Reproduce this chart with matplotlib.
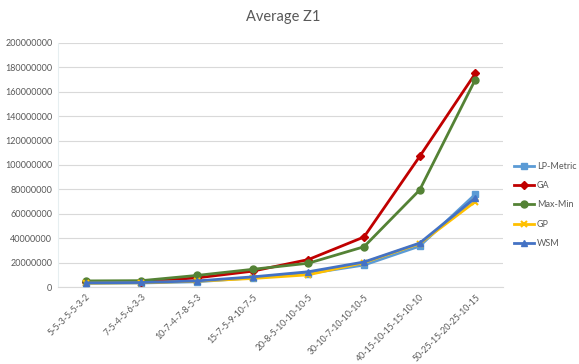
import matplotlib
matplotlib.use("Agg")
import matplotlib.pyplot as plt
from matplotlib.ticker import FixedLocator

plt.rcParams['font.family'] = ['Lato', 'DejaVu Sans']

categories = ["5-5-3-5-5-3-2", "7-5-4-5-6-3-3", "10-7-4-7-8-5-3", "15-7-5-9-10-7-5",
              "20-8-5-10-10-10-5", "30-10-7-10-10-10-5", "40-15-10-15-15-10-10",
              "50-25-15-20-25-10-15"]

lp_metric = [3.0e6, 3.3e6, 4.3e6, 7.5e6, 11.0e6, 18.0e6, 33.5e6, 76.0e6]
ga = [4.2e6, 4.4e6, 7.5e6, 13.0e6, 22.5e6, 41.0e6, 107.0e6, 175.0e6]
max_min = [5.0e6, 5.2e6, 9.5e6, 14.5e6, 19.5e6, 33.0e6, 79.5e6, 170.0e6]
gp = [3.2e6, 3.5e6, 4.8e6, 7.0e6, 10.0e6, 20.0e6, 35.5e6, 70.0e6]
wsm = [3.4e6, 3.7e6, 5.0e6, 8.3e6, 12.5e6, 20.5e6, 36.0e6, 73.0e6]

y_ticks = list(range(0, 200000001, 20000000))

fig = plt.figure(figsize=(5.79, 3.64), dpi=100)
ax = fig.add_axes([0.1, 0.2115, 0.769, 0.6705])

x = list(range(len(categories)))
ax.plot(x, lp_metric, color="#5B9BD5", lw=2, marker="s", ms=5, label="LP-Metric", zorder=3)
ax.plot(x, ga, color="#C00000", lw=2, marker="D", ms=4.5, label="GA", zorder=3)
ax.plot(x, max_min, color="#548235", lw=2, marker="o", ms=5, label="Max-Min", zorder=3)
ax.plot(x, gp, color="#FFC000", lw=2, marker="x", ms=5, mew=1.5, label="GP", zorder=3)
ax.plot(x, wsm, color="#4472C4", lw=2, marker="^", ms=5, label="WSM", zorder=3)

ax.set_xlim(-0.5, len(categories) - 0.5)
ax.set_ylim(0, 200000000)
ax.yaxis.set_major_locator(FixedLocator(y_ticks))
ax.set_yticklabels([str(v) for v in y_ticks], fontsize=6.5, color="#595959")
ax.set_xticks(x)
ax.set_xticklabels(categories, rotation=45, ha="right", rotation_mode="anchor",
                   fontsize=6.3, color="#595959")
ax.tick_params(axis="both", length=0, pad=4)
ax.grid(axis="y", color="#d9d9d9", lw=0.8)
ax.set_axisbelow(True)
for s in ["top", "right"]:
    ax.spines[s].set_visible(False)
ax.spines["left"].set_color("#e6eef0")
ax.spines["left"].set_linewidth(0.8)
ax.spines["bottom"].set_color("#d9d9d9")

fig.text(0.489, 0.952, "Average Z1", ha="center", va="center", fontsize=10.5, color="#595959")

leg = fig.legend(loc="center left", bbox_to_anchor=(0.888, 0.437), frameon=False,
                 fontsize=6.5, labelspacing=1.15, handlelength=2.2, handletextpad=0.3,
                 borderpad=0, borderaxespad=0)
for t in leg.get_texts():
    t.set_color("#595959")

fig.savefig("out.png", dpi=100)
